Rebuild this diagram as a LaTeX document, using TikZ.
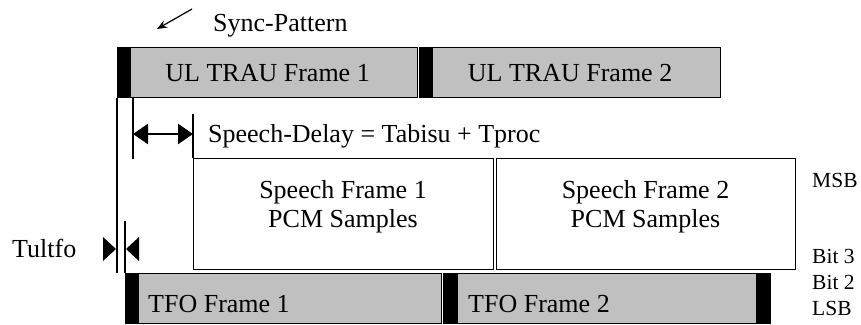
\documentclass[tikz,border=0pt]{standalone}
\usepackage{fontspec}
\setmainfont{Liberation Serif}
\usetikzlibrary{arrows.meta}
\definecolor{fgray}{RGB}{192,192,192}
\begin{document}
\begin{tikzpicture}[x=1pt,y=-1pt,
 frame/.style={draw, fill=fgray, line width=1.2pt, inner sep=0pt, anchor=north west},
 syncbar/.style={fill=black, inner sep=0pt, anchor=north west},
 speechbox/.style={draw, fill=white, line width=1.2pt, inner sep=0pt, anchor=north west},
 big/.style={font=\fontsize{26}{29}\selectfont, inner sep=0pt},
 small/.style={font=\fontsize{21.5}{24}\selectfont, inner sep=0pt, anchor=base west},
 vline/.style={line width=1.2pt},
 dimtip/.style={fill=black}]
\useasboundingbox (0,0) rectangle (861,324);

% UL TRAU frames
\node[frame, minimum width=300pt, minimum height=50pt] (ul1) at (117,47) {};
\node[syncbar, minimum width=14pt, minimum height=50pt] (ul1s) at (117,47) {};
\node[big] (ul1t) at (ul1.center) {UL TRAU Frame 1};
\node[frame, minimum width=301pt, minimum height=50pt] (ul2) at (419,47) {};
\node[syncbar, minimum width=14pt, minimum height=50pt] (ul2s) at (419,47) {};
\node[big] (ul2t) at (ul2.center) {UL TRAU Frame 2};

% Speech frames
\node[speechbox, minimum width=300pt, minimum height=111pt] (sp1) at (193,158) {};
\node[speechbox, minimum width=299pt, minimum height=111pt] (sp2) at (496,158) {};
\node[big, align=center] (sp1t) at (343,206.5) {Speech Frame 1\\PCM Samples};
\node[big, align=center] (sp2t) at (645.5,206.5) {Speech Frame 2\\PCM Samples};

% TFO frames
\node[frame, minimum width=316pt, minimum height=50pt] (tfo1) at (125,273) {};
\node[syncbar, minimum width=14pt, minimum height=50pt] (tfo1s) at (125,273) {};
\node[big, anchor=base west] (tfo1t) at (148,312) {TFO Frame 1};
\node[frame, minimum width=327pt, minimum height=50pt] (tfo2) at (443,273) {};
\node[syncbar, minimum width=15pt, minimum height=50pt] (tfo2s) at (443,273) {};
\node[syncbar, minimum width=14pt, minimum height=50pt] (tfo2e) at (756,273) {};
\node[big, anchor=base west] (tfo2t) at (468,312) {TFO Frame 2};

% vertical reference lines
\draw[vline] (ul1.south west) -- (ul1.south west |- tfo1.north);
\coordinate (l2top) at (133,97);
\coordinate (l2bot) at (133,159);
\draw[vline] (l2top) -- (l2bot);
\coordinate (l3top) at (193,114);
\draw[vline] (sp1.north west) -- (l3top);
\coordinate (l4top) at (125,221);
\draw[vline] (tfo1.north west) -- (l4top);

% speech delay arrow
\coordinate (da1) at (133,134);
\coordinate (da2) at (193,134);
\draw[line width=2.5pt, {Triangle[length=15pt,width=20pt]}-{Triangle[length=15pt,width=20pt]}] (da1) -- (da2);
\node[big, anchor=base west] (sd) at (208,142) {Speech-Delay = Tabisu + Tproc};

% Tultfo
\fill[dimtip] (103,237) -- (116,249) -- (103,261) -- cycle;
\fill[dimtip] (139,237) -- (126,249) -- (139,261) -- cycle;
\node[big, anchor=base west] (tu) at (12,257) {Tultfo};

% Sync pattern
\node[big, anchor=base west] (syn) at (213,31) {Sync-Pattern};
\coordinate (sa1) at (192,9);
\coordinate (sa2) at (157,29);
\draw[line width=1.2pt, -{Stealth[length=10pt,width=8pt]}] (sa1) -- (sa2);

% bit labels
\node[small] (msb) at (812,187) {MSB};
\node[small] (b3) at (812,263) {Bit 3};
\node[small] (b2) at (812,289) {Bit 2};
\node[small] (lsb) at (812,315) {LSB};
\end{tikzpicture}
\end{document}
